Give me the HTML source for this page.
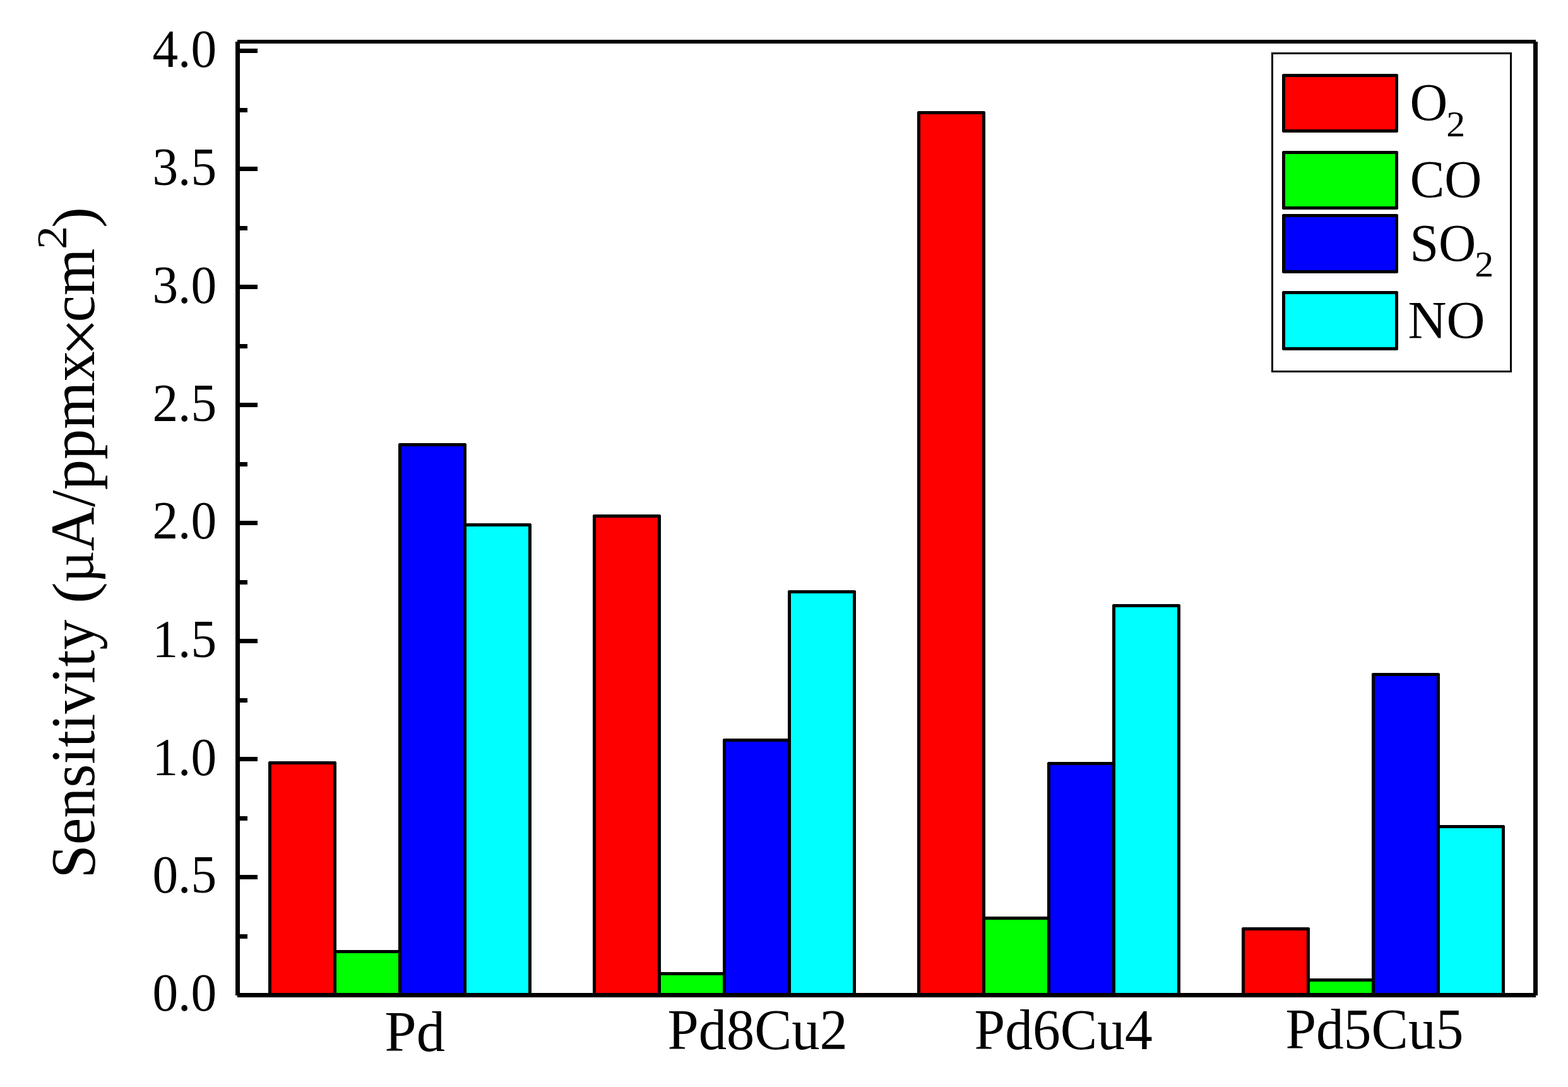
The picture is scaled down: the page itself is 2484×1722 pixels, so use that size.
<!DOCTYPE html>
<html lang="en"><head><meta charset="utf-8"><title>Sensitivity bar chart</title>
<style>
html,body{margin:0;padding:0;background:#fff;}
body{width:2484px;height:1722px;}
svg{display:block;}
text{font-family:"Liberation Serif","DejaVu Serif",serif;fill:#000;font-kerning:none;font-variant-ligatures:none;white-space:pre;}
.bar{stroke:#000;stroke-width:5;stroke-linejoin:round;}
.ax{fill:#000;}
</style></head><body>
<svg width="2484" height="1722" viewBox="0 0 2484 1722">
<rect x="0" y="0" width="2484" height="1722" fill="#fff"/>
<g id="bars" shape-rendering="crispEdges">
<rect class="bar" x="427.5" y="1208.5" width="103" height="368.0" fill="#ff0000"/>
<rect class="bar" x="530.5" y="1507.5" width="103" height="69.0" fill="#00ff00"/>
<rect class="bar" x="633.5" y="704.5" width="103" height="872.0" fill="#0000ff"/>
<rect class="bar" x="736.5" y="831.5" width="103" height="745.0" fill="#00ffff"/>
<rect class="bar" x="941.5" y="817.5" width="103" height="759.0" fill="#ff0000"/>
<rect class="bar" x="1044.5" y="1542.5" width="103" height="34.0" fill="#00ff00"/>
<rect class="bar" x="1147.5" y="1172.5" width="103" height="404.0" fill="#0000ff"/>
<rect class="bar" x="1250.5" y="937.5" width="103" height="639.0" fill="#00ffff"/>
<rect class="bar" x="1455.5" y="178.5" width="103" height="1398.0" fill="#ff0000"/>
<rect class="bar" x="1558.5" y="1454.5" width="103" height="122.0" fill="#00ff00"/>
<rect class="bar" x="1661.5" y="1209.5" width="103" height="367.0" fill="#0000ff"/>
<rect class="bar" x="1764.5" y="959.5" width="103" height="617.0" fill="#00ffff"/>
<rect class="bar" x="1969.5" y="1471.5" width="103" height="105.0" fill="#ff0000"/>
<rect class="bar" x="2072.5" y="1552.5" width="103" height="24.0" fill="#00ff00"/>
<rect class="bar" x="2175.5" y="1068.5" width="103" height="508.0" fill="#0000ff"/>
<rect class="bar" x="2278.5" y="1309.5" width="103" height="267.0" fill="#00ffff"/>
</g>
<g id="axes" class="ax" shape-rendering="crispEdges">
<rect x="373" y="66" width="7" height="1511"/>
<rect x="2429" y="66" width="7" height="1511"/>
<rect x="376" y="63" width="2057" height="6"/>
<rect x="376" y="1573" width="2057" height="7"/>
<rect x="380" y="77" width="28" height="7"/>
<rect x="380" y="171" width="12" height="7"/>
<rect x="380" y="264" width="28" height="7"/>
<rect x="380" y="358" width="12" height="7"/>
<rect x="380" y="451" width="28" height="7"/>
<rect x="380" y="545" width="12" height="7"/>
<rect x="380" y="638" width="28" height="7"/>
<rect x="380" y="732" width="12" height="7"/>
<rect x="380" y="825" width="28" height="7"/>
<rect x="380" y="919" width="12" height="7"/>
<rect x="380" y="1012" width="28" height="7"/>
<rect x="380" y="1106" width="12" height="7"/>
<rect x="380" y="1199" width="28" height="7"/>
<rect x="380" y="1293" width="12" height="7"/>
<rect x="380" y="1386" width="28" height="7"/>
<rect x="380" y="1480" width="12" height="7"/>
</g>
<g id="ticklabels">
<text x="241.41" y="106" font-size="85.00" textLength="101.69" lengthAdjust="spacingAndGlyphs">4.0</text>
<text x="241.41" y="293" font-size="85.00" textLength="101.69" lengthAdjust="spacingAndGlyphs">3.5</text>
<text x="241.41" y="480" font-size="85.00" textLength="101.69" lengthAdjust="spacingAndGlyphs">3.0</text>
<text x="241.41" y="667" font-size="85.00" textLength="101.69" lengthAdjust="spacingAndGlyphs">2.5</text>
<text x="241.41" y="853" font-size="85.00" textLength="101.69" lengthAdjust="spacingAndGlyphs">2.0</text>
<text x="241.41" y="1041" font-size="85.00" textLength="101.69" lengthAdjust="spacingAndGlyphs">1.5</text>
<text x="241.41" y="1228" font-size="85.00" textLength="101.69" lengthAdjust="spacingAndGlyphs">1.0</text>
<text x="241.41" y="1414" font-size="85.00" textLength="101.69" lengthAdjust="spacingAndGlyphs">0.5</text>
<text x="241.41" y="1601" font-size="85.00" textLength="101.69" lengthAdjust="spacingAndGlyphs">0.0</text>
</g>
<text id="ylabel" transform="translate(149.30 0) rotate(-90)"><tspan x="-1391.41" y="0.00" font-size="98.50" textLength="433.73" lengthAdjust="spacingAndGlyphs">Sensitivity </tspan><tspan x="-956.05" y="-0.50" font-size="94.80" textLength="33.71" lengthAdjust="spacingAndGlyphs">(</tspan><tspan x="-923.86" y="-1.60" font-size="91.40" textLength="51.17" lengthAdjust="spacingAndGlyphs">&#181;</tspan><tspan x="-872.94" y="0.00" font-size="98.50" textLength="316.62" lengthAdjust="spacingAndGlyphs">A/ppmx</tspan><tspan x="-564.56" y="13.25" font-size="109.00" textLength="61.01" lengthAdjust="spacingAndGlyphs">&#215;</tspan><tspan x="-510.45" y="0.00" font-size="98.50" textLength="116.94" lengthAdjust="spacingAndGlyphs">cm</tspan><tspan x="-395.07" y="-44.00" font-size="67.00" textLength="37.17" lengthAdjust="spacingAndGlyphs">2</tspan><tspan x="-361.01" y="-0.50" font-size="94.80" textLength="33.19" lengthAdjust="spacingAndGlyphs">)</tspan></text>
<g id="xlabels">
<text x="609.39" y="1665.00" font-size="90.00" textLength="95.72" lengthAdjust="spacingAndGlyphs">Pd</text>
<text x="1057.45" y="1662.00" font-size="90.00" textLength="285.44" lengthAdjust="spacingAndGlyphs">Pd8Cu2</text>
<text x="1543.48" y="1662.00" font-size="90.00" textLength="282.29" lengthAdjust="spacingAndGlyphs">Pd6Cu4</text>
<text x="2036.48" y="1661.00" font-size="90.00" textLength="281.94" lengthAdjust="spacingAndGlyphs">Pd5Cu5</text>
</g>
<g id="legend">
<g shape-rendering="crispEdges">
<rect x="2015.5" y="84.5" width="378" height="504" fill="#fff" stroke="#000" stroke-width="3"/>
<rect class="bar" x="2033.5" y="119.5" width="179" height="88" fill="#ff0000"/>
<rect class="bar" x="2033.5" y="241.5" width="179" height="88" fill="#00ff00"/>
<rect class="bar" x="2033.5" y="341.5" width="179" height="89" fill="#0000ff"/>
<rect class="bar" x="2033.5" y="463.5" width="179" height="89" fill="#00ffff"/>
</g>
<text><tspan x="2233.60" y="191.00" font-size="84.50" textLength="59.79" lengthAdjust="spacingAndGlyphs">O</tspan><tspan x="2291.37" y="216.00" font-size="57.40" textLength="29.93" lengthAdjust="spacingAndGlyphs">2</tspan></text>
<text><tspan x="2233.64" y="313.00" font-size="84.50" textLength="113.71" lengthAdjust="spacingAndGlyphs">CO</tspan></text>
<text><tspan x="2233.51" y="414.00" font-size="84.50" textLength="104.85" lengthAdjust="spacingAndGlyphs">SO</tspan><tspan x="2336.37" y="438.00" font-size="57.40" textLength="29.93" lengthAdjust="spacingAndGlyphs">2</tspan></text>
<text><tspan x="2230.57" y="536.00" font-size="84.50" textLength="121.89" lengthAdjust="spacingAndGlyphs">NO</tspan></text>
</g>
</svg>
</body></html>
